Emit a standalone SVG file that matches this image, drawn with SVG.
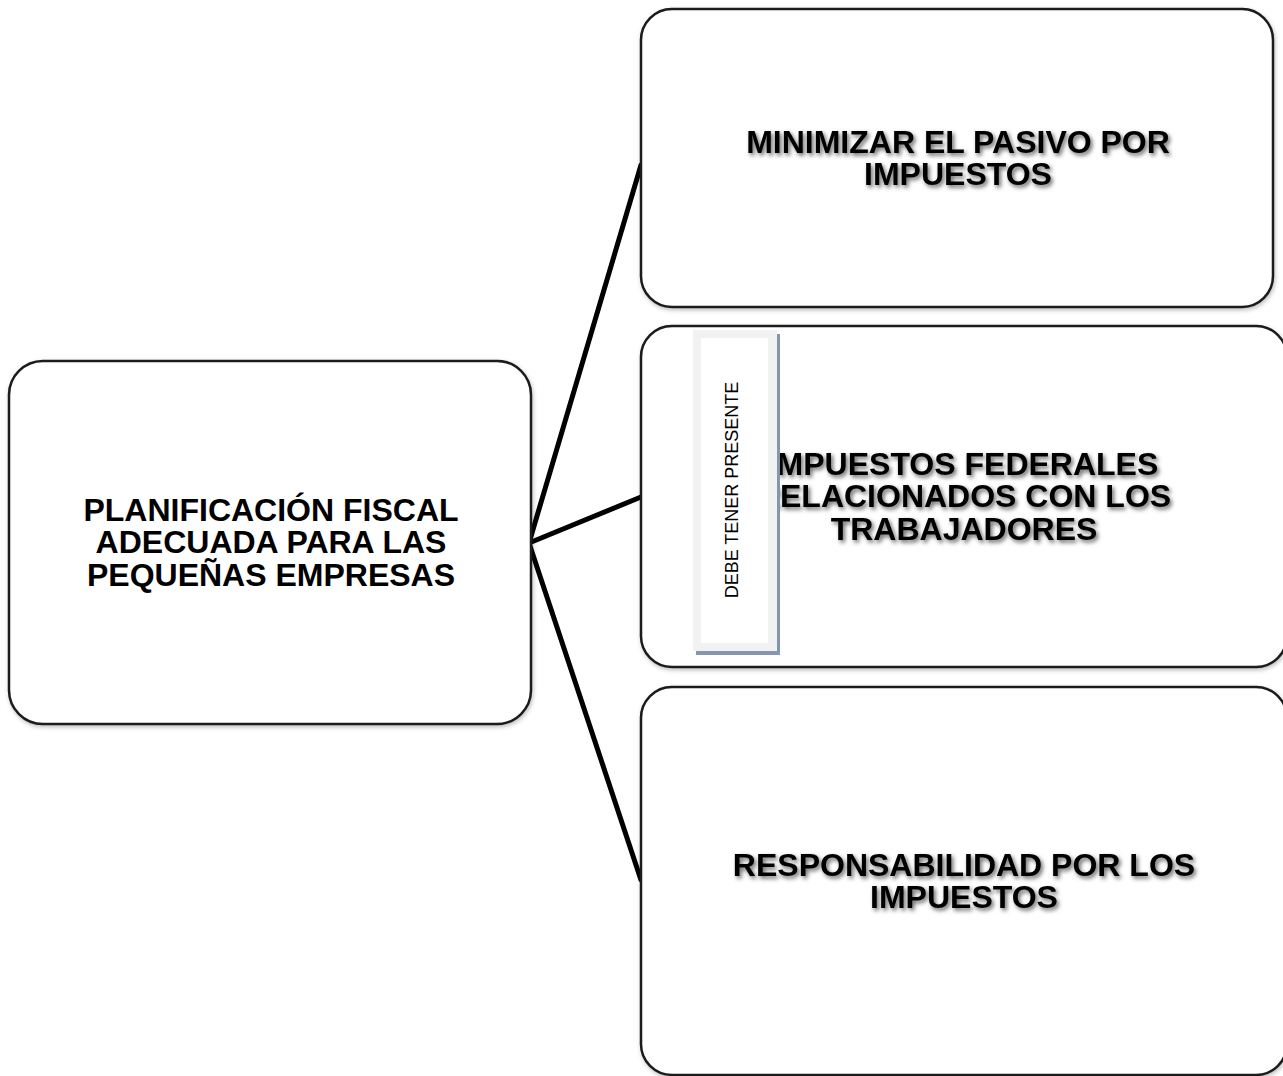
<svg xmlns="http://www.w3.org/2000/svg" width="1283" height="1076" viewBox="0 0 1283 1076">
<defs>
<filter id="ts" x="-10%" y="-30%" width="120%" height="160%">
<feDropShadow dx="2" dy="2.5" stdDeviation="2" flood-color="#000" flood-opacity="0.6"/>
</filter>
<filter id="bs" x="-5%" y="-5%" width="110%" height="110%">
<feDropShadow dx="1" dy="2" stdDeviation="2" flood-color="#000" flood-opacity="0.25"/>
</filter>
</defs>
<style>
.box{fill:#fff;stroke:#1a1a1a;stroke-width:2.5}
.t{font-family:"Liberation Sans",Arial,sans-serif;font-weight:bold;font-size:32px;fill:#000;text-anchor:middle}
.sh{filter:url(#ts)}
.conn{stroke:#000;stroke-width:5;fill:none;stroke-linecap:round}
.lbl{font-family:"Liberation Sans",Arial,sans-serif;font-size:18px;fill:#000;text-anchor:middle}
</style>
<rect width="1283" height="1076" fill="#fff"/>
<g id="connectors">
<line class="conn" x1="529" y1="543" x2="641" y2="165"/>
<line class="conn" x1="529" y1="543" x2="641" y2="497"/>
<line class="conn" x1="529" y1="543" x2="641" y2="880"/>
</g>
<g id="node-root">
<rect class="box" filter="url(#bs)" x="9" y="361" width="522" height="363" rx="34" ry="34"/>
<text class="t" x="271" y="521">PLANIFICACIÓN FISCAL</text>
<text class="t" x="271" y="553">ADECUADA PARA LAS</text>
<text class="t" x="271" y="586">PEQUEÑAS EMPRESAS</text>
</g>
<g id="node-minimizar">
<rect class="box" filter="url(#bs)" x="641" y="9" width="632" height="298" rx="31" ry="31"/>
<g class="sh">
<text class="t" x="958" y="153">MINIMIZAR EL PASIVO POR</text>
<text class="t" x="958" y="185">IMPUESTOS</text>
</g>
</g>
<g id="node-federales">
<rect class="box" filter="url(#bs)" x="641" y="326" width="646" height="341" rx="31" ry="31"/>
<g class="sh">
<text class="t" x="963" y="475">IMPUESTOS FEDERALES</text>
<text class="t" x="964" y="507">RELACIONADOS CON LOS</text>
<text class="t" x="964" y="540">TRABAJADORES</text>
</g>
</g>
<g id="node-responsabilidad">
<rect class="box" filter="url(#bs)" x="641" y="687" width="646" height="388" rx="31" ry="31"/>
<g class="sh">
<text class="t" x="964" y="876">RESPONSABILIDAD POR LOS</text>
<text class="t" x="964" y="908">IMPUESTOS</text>
</g>
</g>
<g id="label-debe">
<rect x="696" y="334" width="84" height="321" fill="#8497b0"/>
<rect x="693" y="330" width="84" height="321" fill="#f2f2f2"/>
<rect x="701" y="338" width="67" height="305" fill="#fff"/>
<text class="lbl" transform="translate(738,490) rotate(-90)">DEBE TENER PRESENTE</text>
</g>
</svg>
